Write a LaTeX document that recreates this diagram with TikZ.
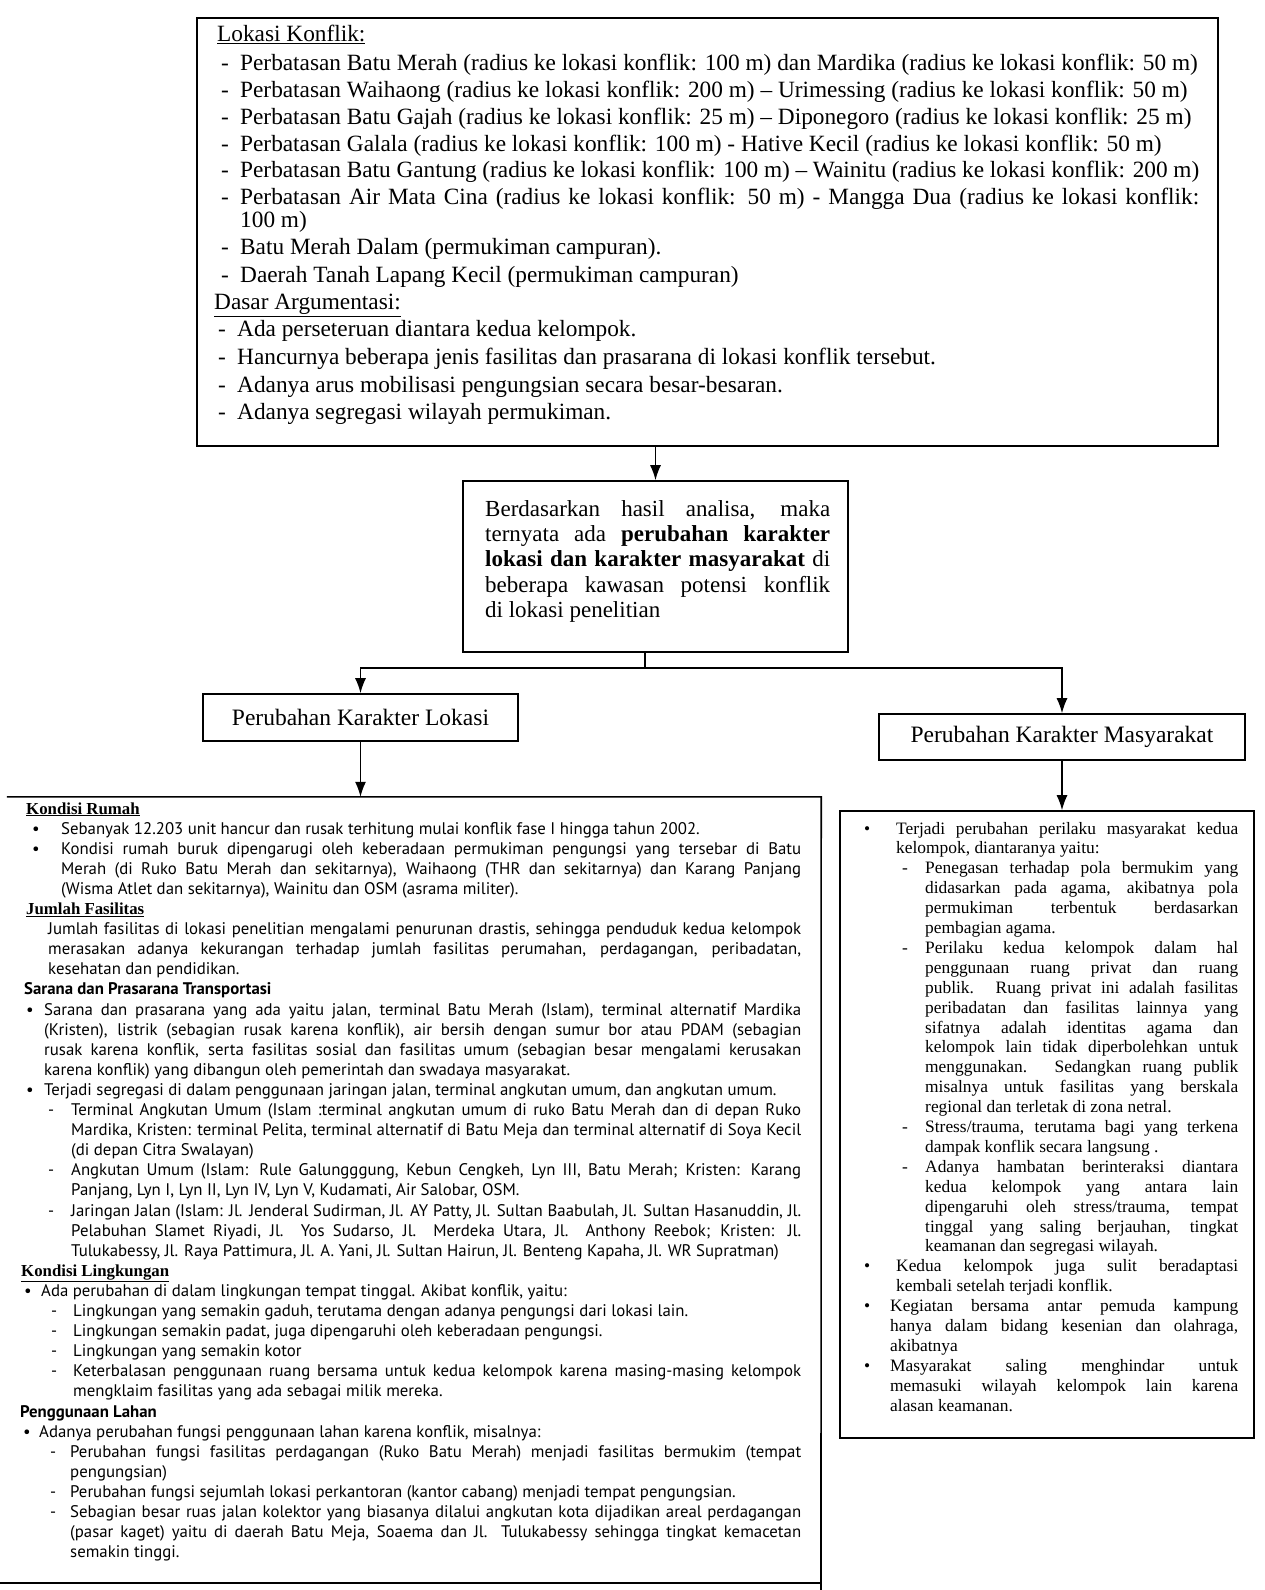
\documentclass[tikz,border=0pt]{standalone}
\usepackage{fontspec}
\setmainfont{Liberation Serif}
\newfontfamily\ptsans{PT Sans}
\usetikzlibrary{arrows.meta,fit}
\newcommand\LJ[4]{\hbox to\hsize{\rlap{\hskip#1pt\relax#2}\hskip#3pt\relax#4}}
\newcommand\LN[4]{\hbox to\hsize{\rlap{\hskip#1pt\relax#2}\hskip#3pt\relax#4\hfil}}
\newcommand\Block[3]{\vtop{\hsize=#1pt\baselineskip=#2pt\lineskiplimit=-1000pt\lineskip=0pt\parindent=0pt #3}}
\newcommand\HU[1]{{\rmfamily\bfseries\underline{#1}}}
\newcommand\HB[1]{{\bfseries #1}}
\begin{document}
\begin{tikzpicture}[x=1pt,y=-1pt,
  frame/.style={draw, line width=1.6pt, inner sep=0pt},
  boxline/.style={line width=1.6pt},
  conn/.style={line width=1.4pt},
  arr/.style={line width=1.4pt, -{Latex[length=15pt,width=11pt]}},
  txt/.style={anchor=base west, inner sep=0pt}]
\fill[white] (0,0) rectangle (1264,1590);
\useasboundingbox (0,0) rectangle (1264,1590);

% frames
\node[frame, fit={(197,18) (1218,446)}] (b1) {};
\node[frame, fit={(463,481) (848,652)}] (b2) {};
\node[frame, fit={(203,694) (518,741)}] (lok) {};
\node[frame, fit={(879,714) (1245,760)}] (mas) {};
\node[inner sep=0pt, fit={(0,797) (821,1583)}] (lb) {};
\node[frame, fit={(840,811) (1254,1438)}] (rb) {};
\coordinate (lbend) at (821,1590);
\coordinate (j) at (645,668);

% left box open frame
\draw[boxline] ([xshift=7pt]lb.north west) -- (lb.north east) -- (lbend);
\draw[boxline] (lb.south west) -- (lb.south east);

% connectors
\draw[arr] (b2.north |- b1.south) -- (b2.north);
\draw[conn] (b2.south -| j) -- (j);
\draw[arr] (j) -| (lok.north);
\draw[arr] (j) -| (mas.north);
\draw[arr] (lok.south) -- (lok.south |- lb.north);
\draw[arr] (mas.south) -- (mas.south |- rb.north);

% single-line boxes
\node[inner sep=0pt, font=\fontsize{23.5}{28}\selectfont] (lokt) at (lok.center) {Perubahan Karakter Lokasi};
\node[inner sep=0pt, font=\fontsize{23.5}{28}\selectfont] (mast) at (mas.center) {Perubahan Karakter Masyarakat};

% top box text
\node[txt, font=\fontsize{23.3}{27}\selectfont] (t1) at (217,41) {\Block{982}{27}{%
\LN{0}{}{0}{\underline{Lokasi Konflik:}}
\vskip2pt
\LN{4}{-}{23}{Perbatasan Batu Merah (radius ke lokasi konflik: 100 m) dan Mardika (radius ke lokasi konflik: 50 m)}
\LN{4}{-}{23}{Perbatasan Waihaong (radius ke lokasi konflik: 200 m) – Urimessing (radius ke lokasi konflik: 50 m)}
\LN{4}{-}{23}{Perbatasan Batu Gajah (radius ke lokasi konflik: 25 m) – Diponegoro (radius ke lokasi konflik: 25 m)}
\LN{4}{-}{23}{Perbatasan Galala (radius ke lokasi konflik: 100 m) - Hative Kecil (radius ke lokasi konflik: 50 m)}
\LN{4}{-}{23}{Perbatasan Batu Gantung (radius ke lokasi konflik: 100 m) – Wainitu (radius ke lokasi konflik: 200 m)}
\LJ{4}{-}{23}{Perbatasan Air Mata Cina (radius ke lokasi konflik: 50 m) - Mangga Dua (radius ke lokasi konflik:}
\baselineskip=22pt
\LN{0}{}{23}{100 m)}
\baselineskip=27.5pt
\LN{4}{-}{23}{Batu Merah Dalam (permukiman campuran).}
\LN{4}{-}{23}{Daerah Tanah Lapang Kecil (permukiman campuran)}
\LN{0}{}{-3}{\underline{Dasar Argumentasi:}}
\LN{1}{-}{20}{Ada perseteruan diantara kedua kelompok.}
\LN{1}{-}{20}{Hancurnya beberapa jenis fasilitas dan prasarana di lokasi konflik tersebut.}
\LN{1}{-}{20}{Adanya arus mobilisasi pengungsian secara besar-besaran.}
\LN{1}{-}{20}{Adanya segregasi wilayah permukiman.}
}};

% middle box text
\node[txt, font=\fontsize{23}{25.4}\selectfont] (t2) at (485,516) {\Block{345}{25.4}{%
\LJ{0}{}{0}{Berdasarkan hasil analisa, maka}
\LJ{0}{}{0}{ternyata ada \textbf{perubahan karakter}}
\LJ{0}{}{0}{\textbf{lokasi dan karakter masyarakat} di}
\LJ{0}{}{0}{beberapa kawasan potensi konflik}
\LN{0}{}{0}{di lokasi penelitian}
}};

% right box text
\node[txt, font=\fontsize{17.4}{19.9}\selectfont] (t3) at (858,834) {\Block{380}{19.9}{%
\LJ{6}{•}{38}{Terjadi perubahan perilaku masyarakat kedua}
\LN{0}{}{38}{kelompok, diantaranya yaitu:}
\LJ{44}{-}{67}{Penegasan terhadap pola bermukim yang}
\LJ{0}{}{67}{didasarkan pada agama, akibatnya pola}
\LJ{0}{}{67}{permukiman terbentuk berdasarkan}
\LN{0}{}{67}{pembagian agama.}
\LJ{44}{-}{67}{Perilaku kedua kelompok dalam hal}
\LJ{0}{}{67}{penggunaan ruang privat dan ruang}
\LJ{0}{}{67}{publik. Ruang privat ini adalah fasilitas}
\LJ{0}{}{67}{peribadatan dan fasilitas lainnya yang}
\LJ{0}{}{67}{sifatnya adalah identitas agama dan}
\LJ{0}{}{67}{kelompok lain tidak diperbolehkan untuk}
\LJ{0}{}{67}{menggunakan. Sedangkan ruang publik}
\LJ{0}{}{67}{misalnya untuk fasilitas yang berskala}
\LN{0}{}{67}{regional dan terletak di zona netral.}
\LJ{44}{-}{67}{Stress/trauma, terutama bagi yang terkena}
\LN{0}{}{67}{dampak konflik secara langsung .}
\LJ{44}{-}{67}{Adanya hambatan berinteraksi diantara}
\LJ{0}{}{67}{kedua kelompok yang antara lain}
\LJ{0}{}{67}{dipengaruhi oleh stress/trauma, tempat}
\LJ{0}{}{67}{tinggal yang saling berjauhan, tingkat}
\LN{0}{}{67}{keamanan dan segregasi wilayah.}
\LJ{6}{•}{38}{Kedua kelompok juga sulit beradaptasi}
\LN{0}{}{38}{kembali setelah terjadi konflik.}
\LJ{6}{•}{32}{Kegiatan bersama antar pemuda kampung}
\LJ{0}{}{32}{hanya dalam bidang kesenian dan olahraga,}
\LN{0}{}{32}{akibatnya}
\LJ{6}{•}{32}{Masyarakat saling menghindar untuk}
\LJ{0}{}{32}{memasuki wilayah kelompok lain karena}
\LN{0}{}{32}{alasan keamanan.}
}};

% left box text
\node[txt, font=\ptsans\fontsize{16.8}{20.1}\selectfont] (t4) at (20,814) {\Block{781}{20.1}{%
\LN{0}{}{6}{\HU{Kondisi Rumah}}
\LN{12}{•}{41}{Sebanyak 12.203 unit hancur dan rusak terhitung mulai konflik fase I hingga tahun 2002.}
\LJ{12}{•}{41}{Kondisi rumah buruk dipengarugi oleh keberadaan permukiman pengungsi yang tersebar di Batu}
\LJ{0}{}{41}{Merah (di Ruko Batu Merah dan sekitarnya), Waihaong (THR dan sekitarnya) dan Karang Panjang}
\LN{0}{}{41}{(Wisma Atlet dan sekitarnya), Wainitu dan OSM (asrama militer).}
\LN{0}{}{6}{\HU{Jumlah Fasilitas}}
\LJ{0}{}{28}{Jumlah fasilitas di lokasi penelitian mengalami penurunan drastis, sehingga penduduk kedua kelompok}
\LJ{0}{}{28}{merasakan adanya kekurangan terhadap jumlah fasilitas perumahan, perdagangan, peribadatan,}
\LN{0}{}{28}{kesehatan dan pendidikan.}
\LN{0}{}{4}{\HB{Sarana dan Prasarana Transportasi}}
\LJ{6}{•}{24}{Sarana dan prasarana yang ada yaitu jalan, terminal Batu Merah (Islam), terminal alternatif Mardika}
\LJ{0}{}{24}{(Kristen), listrik (sebagian rusak karena konflik), air bersih dengan sumur bor atau PDAM (sebagian}
\LJ{0}{}{24}{rusak karena konflik, serta fasilitas sosial dan fasilitas umum (sebagian besar mengalami kerusakan}
\LN{0}{}{24}{karena konflik) yang dibangun oleh pemerintah dan swadaya masyarakat.}
\LN{6}{•}{24}{Terjadi segregasi di dalam penggunaan jaringan jalan, terminal angkutan umum, dan angkutan umum.}
\LJ{28}{-}{51}{Terminal Angkutan Umum (Islam :terminal angkutan umum di ruko Batu Merah dan di depan Ruko}
\LJ{0}{}{51}{Mardika, Kristen: terminal Pelita, terminal alternatif di Batu Meja dan terminal alternatif di Soya Kecil}
\LN{0}{}{51}{(di depan Citra Swalayan)}
\LJ{28}{-}{51}{Angkutan Umum (Islam: Rule Galungggung, Kebun Cengkeh, Lyn III, Batu Merah; Kristen: Karang}
\LN{0}{}{51}{Panjang, Lyn I, Lyn II, Lyn IV, Lyn V, Kudamati, Air Salobar, OSM.}
\LJ{28}{-}{51}{Jaringan Jalan (Islam: Jl. Jenderal Sudirman, Jl. AY Patty, Jl. Sultan Baabulah, Jl. Sultan Hasanuddin, Jl.}
\LJ{0}{}{51}{Pelabuhan Slamet Riyadi, Jl. Yos Sudarso, Jl. Merdeka Utara, Jl. Anthony Reebok; Kristen: Jl.}
\LN{0}{}{51}{Tulukabessy, Jl. Raya Pattimura, Jl. A. Yani, Jl. Sultan Hairun, Jl. Benteng Kapaha, Jl. WR Supratman)}
\LN{0}{}{1}{\HU{Kondisi Lingkungan}}
\LN{4}{•}{21}{Ada perubahan di dalam lingkungan tempat tinggal. Akibat konflik, yaitu:}
\LN{31}{-}{53}{Lingkungan yang semakin gaduh, terutama dengan adanya pengungsi dari lokasi lain.}
\LN{31}{-}{53}{Lingkungan semakin padat, juga dipengaruhi oleh keberadaan pengungsi.}
\LN{31}{-}{53}{Lingkungan yang semakin kotor}
\LJ{31}{-}{53}{Keterbalasan penggunaan ruang bersama untuk kedua kelompok karena masing-masing kelompok}
\LN{0}{}{53}{mengklaim fasilitas yang ada sebagai milik mereka.}
\LN{0}{}{0}{\HB{Penggunaan Lahan}}
\LN{3}{•}{19}{Adanya perubahan fungsi penggunaan lahan karena konflik, misalnya:}
\LJ{30}{-}{50}{Perubahan fungsi fasilitas perdagangan (Ruko Batu Merah) menjadi fasilitas bermukim (tempat}
\LN{0}{}{50}{pengungsian)}
\LN{30}{-}{50}{Perubahan fungsi sejumlah lokasi perkantoran (kantor cabang) menjadi tempat pengungsian.}
\LJ{30}{-}{50}{Sebagian besar ruas jalan kolektor yang biasanya dilalui angkutan kota dijadikan areal perdagangan}
\LJ{0}{}{50}{(pasar kaget) yaitu di daerah Batu Meja, Soaema dan Jl. Tulukabessy sehingga tingkat kemacetan}
\LN{0}{}{50}{semakin tinggi.}
}};
\end{tikzpicture}
\end{document}
